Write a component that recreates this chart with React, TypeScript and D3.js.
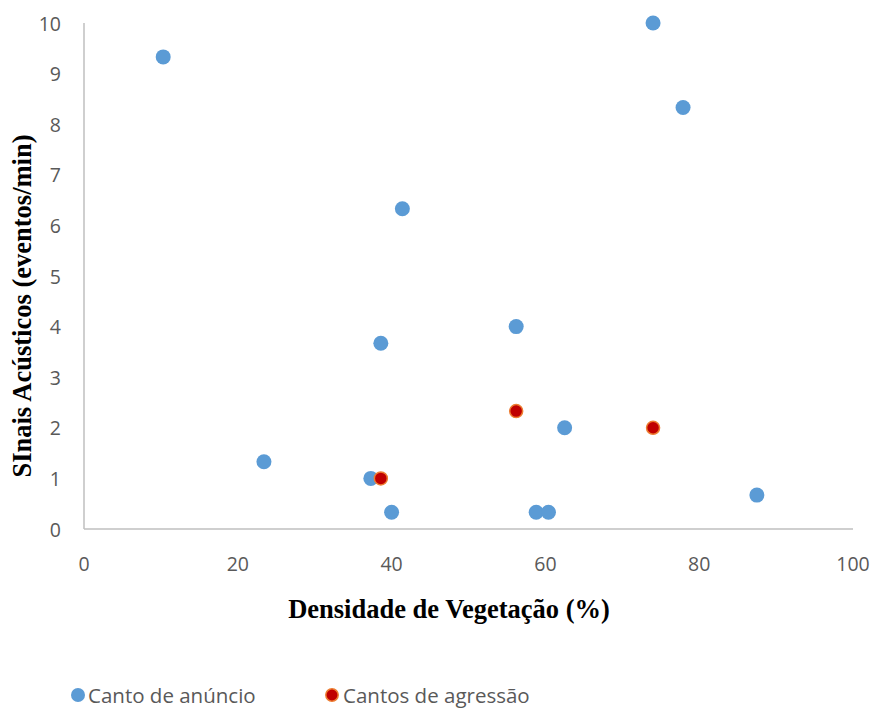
import React from 'react';
import * as d3 from 'd3';

const anuncioX = [10.3, 74, 77.9, 41.4, 56.2, 38.6, 23.4, 37.3, 40, 58.8, 60.4, 62.5, 87.5];
const anuncioY = [9.33, 10, 8.33, 6.33, 4, 3.67, 1.33, 1, 0.33, 0.33, 0.33, 2, 0.67];
const agressaoX = [38.6, 56.2, 74];
const agressaoY = [1, 2.33, 2];
const xTicks = [0, 20, 40, 60, 80, 100];
const yTicks = [0, 1, 2, 3, 4, 5, 6, 7, 8, 9, 10];

const W = 876;
const H = 709;
const tickFont = '"Open Sans", "Noto Sans", sans-serif';
const titleFont = '"Liberation Serif", "Times New Roman", serif';

export default function App() {
  const x = d3.scaleLinear().domain([0, 100]).range([84, 853]);
  const y = d3.scaleLinear().domain([0, 10]).range([529, 23]);

  return (
    <svg width={W} height={H} style={{position: 'absolute', left: 0, top: 0}}>
      <rect width={W} height={H} fill="#fff" />
      <line x1={x(0)} x2={x(0)} y1={y(0)} y2={y(10)} stroke="#bfbfbf" strokeWidth={1.5} />
      <line x1={x(0)} x2={x(100)} y1={y(0)} y2={y(0)} stroke="#bfbfbf" strokeWidth={1.5} />
      {yTicks.map(t => (
        <text key={t} x={61} y={y(t)} textAnchor="end" dominantBaseline="central"
          fontFamily={tickFont} fontSize={19.5} fill="#595959">{t}</text>
      ))}
      {xTicks.map(t => (
        <text key={t} x={x(t)} y={563} textAnchor="middle" dominantBaseline="central"
          fontFamily={tickFont} fontSize={19.5} fill="#595959">{t}</text>
      ))}
      {anuncioX.map((v, i) => (
        <circle key={'a' + i} cx={x(v)} cy={y(anuncioY[i])} r={7.5} fill="#5b9bd5" />
      ))}
      {agressaoX.map((v, i) => (
        <circle key={'g' + i} cx={x(v)} cy={y(agressaoY[i])} r={6.5} fill="#c00000"
          stroke="#ed7d31" strokeWidth={1.5} />
      ))}
      <text x={449} y={609} textAnchor="middle" dominantBaseline="central"
        fontFamily={titleFont} fontWeight="bold" fontSize={26.5} fill="#000">
        Densidade de Vegetação (%)
      </text>
      <text transform="translate(22, 306) rotate(-90)" textAnchor="middle" dominantBaseline="central"
        fontFamily={titleFont} fontWeight="bold" fontSize={26.5} fill="#000">
        SInais Acústicos (eventos/min)
      </text>
      <circle cx={78} cy={695} r={7} fill="#5b9bd5" />
      <text x={88} y={695} dominantBaseline="central" fontFamily={tickFont} fontSize={20.5} fill="#595959">
        Canto de anúncio
      </text>
      <circle cx={332} cy={695} r={6.2} fill="#c00000" stroke="#ed7d31" strokeWidth={1.5} />
      <text x={343} y={695} dominantBaseline="central" fontFamily={tickFont} fontSize={20.5} fill="#595959">
        Cantos de agressão
      </text>
    </svg>
  );
}
